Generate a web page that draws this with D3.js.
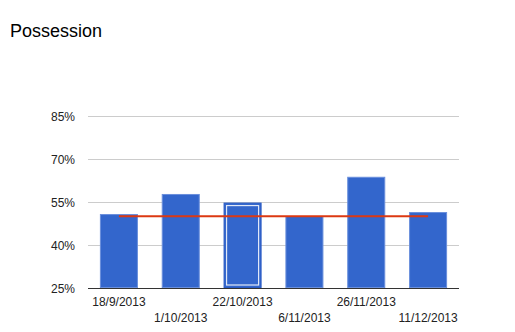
<!DOCTYPE html>
<html>
<head>
<meta charset="utf-8">
<script src="https://cdn.jsdelivr.net/npm/d3@7"></script>
<style>
  body { margin: 0; background: #fff; }
  svg { display: block; font-family: Arial, "Liberation Sans", sans-serif; }
</style>
</head>
<body>
<svg id="chart" width="515" height="332"></svg>
<script>
// Match dates (x categories)
const dates = ['18/9/2013', '1/10/2013', '22/10/2013', '6/11/2013', '26/11/2013', '11/12/2013'];
// Possession per match, in percent
const possession = [50.8, 57.8, 54.8, 50.1, 63.8, 51.5];
// 50% reference line
const reference = [50, 50, 50, 50, 50, 50];
const yTicks = [25, 40, 55, 70, 85];
const selectedIndex = 2;

const svg = d3.select('#chart');

const plot = { left: 88, right: 459, top: 116, bottom: 288 };

svg.append('text')
  .attr('x', 10)
  .attr('y', 37)
  .attr('font-size', 18)
  .attr('fill', '#000')
  .text('Possession');

const x = d3.scaleBand()
  .domain(dates)
  .range([plot.left, plot.right])
  .paddingInner(0.385)
  .paddingOuter(0.1925);

const y = d3.scaleLinear()
  .domain([25, 85])
  .range([plot.bottom, plot.top]);

// gridlines
svg.append('g')
  .selectAll('line')
  .data(yTicks.slice(1))
  .enter().append('line')
    .attr('x1', plot.left)
    .attr('x2', plot.right)
    .attr('y1', d => Math.round(y(d)) + 0.5)
    .attr('y2', d => Math.round(y(d)) + 0.5)
    .attr('stroke', '#cccccc');

// y labels
svg.append('g')
  .selectAll('text')
  .data(yTicks)
  .enter().append('text')
    .attr('x', 75)
    .attr('y', d => y(d) + 4.5)
    .attr('text-anchor', 'end')
    .attr('font-size', 12)
    .attr('fill', '#222')
    .text(d => d + '%');

// bars
const bars = svg.append('g');
bars.selectAll('rect')
  .data(possession)
  .enter().append('rect')
    .attr('x', (d, i) => x(dates[i]) + 0.5)
    .attr('y', d => y(d) + 0.5)
    .attr('width', x.bandwidth() - 1)
    .attr('height', d => plot.bottom - y(d) - 1)
    .attr('fill', '#3366cc')
    .attr('stroke', (d, i) => i === selectedIndex ? '#2a5bc4' : '#6a8fdc')
    .attr('stroke-width', 1);

// selection highlight inside the selected bar
const sel = possession[selectedIndex];
bars.append('rect')
  .attr('x', x(dates[selectedIndex]) + 3)
  .attr('y', y(sel) + 3)
  .attr('width', x.bandwidth() - 6)
  .attr('height', plot.bottom - y(sel) - 6)
  .attr('fill', 'none')
  .attr('stroke', '#ffffff')
  .attr('stroke-opacity', 0.85)
  .attr('stroke-width', 1.2);

// baseline
svg.append('line')
  .attr('x1', plot.left)
  .attr('x2', plot.right)
  .attr('y1', plot.bottom + 0.5)
  .attr('y2', plot.bottom + 0.5)
  .attr('stroke', '#333');

// reference line
const line = d3.line()
  .x((d, i) => x(dates[i]) + x.bandwidth() / 2)
  .y(d => y(d));

svg.append('path')
  .datum(reference)
  .attr('d', line)
  .attr('fill', 'none')
  .attr('stroke', '#dc3912')
  .attr('stroke-width', 2);

// x labels, staggered on two rows
svg.append('g')
  .selectAll('text')
  .data(dates)
  .enter().append('text')
    .attr('x', d => x(d) + x.bandwidth() / 2)
    .attr('y', (d, i) => i % 2 === 0 ? 306 : 322)
    .attr('text-anchor', 'middle')
    .attr('font-size', 12)
    .attr('fill', '#222')
    .text(d => d);
</script>
</body>
</html>
